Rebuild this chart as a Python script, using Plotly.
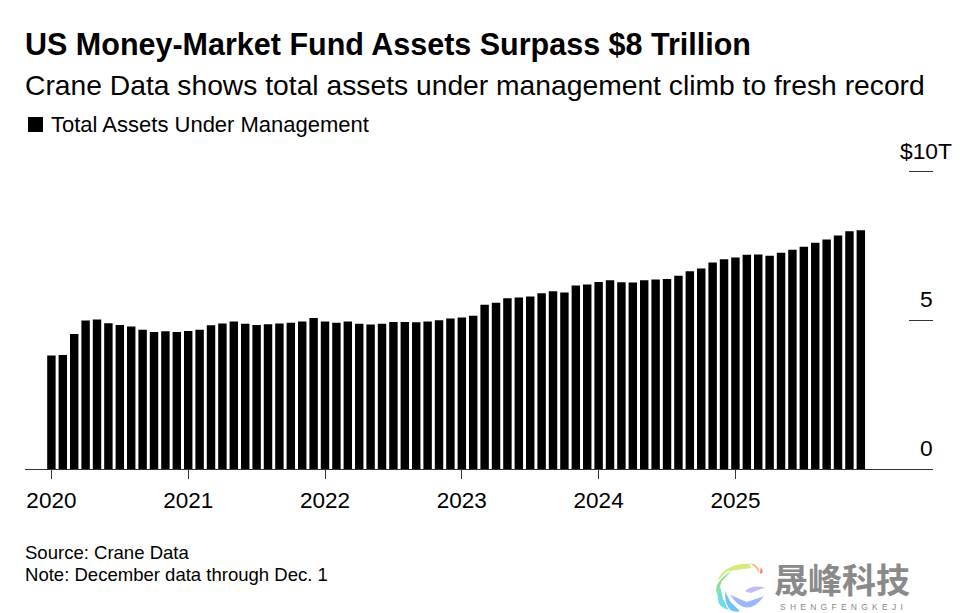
import plotly.graph_objects as go

# total assets under management, $ trillions, monthly
years = ["2020", "2021", "2022", "2023", "2024", "2025"]
assets_2020 = [3.82, 3.83, 4.54, 4.99, 5.03, 4.90, 4.84, 4.79, 4.68, 4.61, 4.63, 4.61]
assets_2021 = [4.64, 4.68, 4.83, 4.89, 4.96, 4.88, 4.84, 4.87, 4.89, 4.92, 4.96, 5.08]
assets_2022 = [4.96, 4.92, 4.96, 4.88, 4.86, 4.88, 4.94, 4.94, 4.93, 4.96, 5.00, 5.06]
assets_2023 = [5.09, 5.15, 5.52, 5.59, 5.74, 5.77, 5.80, 5.91, 5.98, 5.93, 6.17, 6.20]
assets_2024 = [6.29, 6.35, 6.28, 6.27, 6.35, 6.37, 6.39, 6.50, 6.65, 6.74, 6.94, 7.05]
assets_2025 = [7.11, 7.20, 7.21, 7.17, 7.27, 7.37, 7.47, 7.61, 7.72, 7.85, 7.99, 8.03]
y_ticks = [0, 5, 10]
y_tick_labels = ["0", "5", "$10T"]

values = assets_2020 + assets_2021 + assets_2022 + assets_2023 + assets_2024 + assets_2025
months = [f"{y}-{m:02d}" for y in years for m in range(1, 13)]

W, H = 966, 613
L, R, T, B = 25, 933, 168, 469
FONT = "Liberation Sans"


def px(x):
    return (x - L) / (R - L)


def py(y):
    return (B - y) / (B - T)


def note(text, x, y, size, xanchor="left", color="#000000", family=FONT):
    fig.add_annotation(text=text, xref="paper", yref="paper", x=px(x), y=py(y), xanchor=xanchor,
                       yanchor="middle", showarrow=False, borderpad=0, borderwidth=0,
                       font=dict(size=size, color=color, family=family))


fig = go.Figure()
fig.add_trace(go.Bar(x=months, y=values, name="Total Assets Under Management",
                     marker=dict(color="#000000", line=dict(width=0))))

fig.update_layout(
    width=W, height=H,
    margin=dict(l=L, r=W - R, t=T, b=H - B, pad=0),
    paper_bgcolor="white", plot_bgcolor="white",
    bargap=0.26,
    showlegend=False,
    font=dict(family=FONT, color="#000000", size=20),
    title=dict(text="<b>US Money-Market Fund Assets Surpass $8 Trillion</b>",
               font=dict(size=30.5, family=FONT, color="#000000"),
               x=25 / W, xanchor="left", y=1 - 44.5 / H, yanchor="middle"),
    xaxis=dict(type="category", range=[-2.316, 77.33], showgrid=False,
               tickmode="array", tickvals=[f"{y}-01" for y in years], ticktext=years,
               ticks="outside", ticklen=9, tickwidth=1, tickcolor="#333333",
               showline=True, linecolor="#333333", linewidth=1,
               tickfont=dict(size=22.5), ticklabelstandoff=2, zeroline=False),
    yaxis=dict(range=[0, 10.12], side="right", showgrid=False, zeroline=False,
               tickmode="array", tickvals=y_ticks, ticks="inside", ticklen=24,
               tickwidth=1, tickcolor="#333333", showticklabels=False),
)

note("Crane Data shows total assets under management climb to fresh record", 25, 85, 28.25)

# legend key and label
fig.add_shape(type="rect", xref="paper", yref="paper", x0=px(28), x1=px(43), y0=py(132), y1=py(117),
              fillcolor="#000000", line=dict(width=0))
note("Total Assets Under Management", 51, 124.4, 22)

for tick, label in zip(y_ticks, y_tick_labels):
    overhang = 19 if label.endswith("T") else 0
    fig.add_annotation(text=label, x=1, xref="paper", y=tick, yref="y", xanchor="right", yanchor="bottom",
                       xshift=overhang, yshift=8, showarrow=False, borderpad=0, borderwidth=0,
                       font=dict(size=22.8))

note("Source: Crane Data", 25, 552.5, 18.55)
note("Note: December data through Dec. 1", 25, 574, 18.55)

# watermark: logo bands as crescents, then the wordmark
logo_bands = [
    ("#f4807f", [(152, 27), (165, 47), (150, 47), (152, 27)]),
    ("#fbbf7a", [(120, 15), (150, 20), (148, 45), (135, 28)]),
    ("#d5ec7c", [(118, 17), (45, 15), (20, 70), (52, 40), (125, 30)]),
    ("#8fe08f", [(65, 38), (5, 75), (22, 112), (35, 70), (65, 38)]),
    ("#6fdde0", [(30, 85), (8, 145), (55, 155), (40, 125), (30, 85)]),
    ("#6cc4f5", [(45, 100), (45, 170), (90, 160), (60, 130), (45, 100)]),
    ("#9db8fa", [(60, 110), (110, 185), (162, 115), (110, 132), (60, 110)]),
    ("#c9b8f5", [(105, 100), (122, 80), (165, 88), (122, 105), (105, 100)]),
]
for color, pts in logo_bands:
    p = [(px(710 + a / 3), py(558 + b / 3)) for a, b in pts]
    path = f"M {p[0][0]} {p[0][1]} Q {p[1][0]} {p[1][1]} {p[2][0]} {p[2][1]}"
    path += "".join(f" L {a} {b}" for a, b in p[3:]) + " Z"
    fig.add_shape(type="path", xref="paper", yref="paper", path=path, fillcolor=color, line=dict(width=0))

note("<b>晟峰科技</b>", 842, 581, 34, xanchor="center", color="#8a8a8a", family="Liberation Sans, Noto Sans CJK SC")
note("\u2002".join("SHENGFENGKEJI"), 841, 606.5, 8.5, xanchor="center", color="#8a8a8a")

fig.write_html("out.html", config={"displayModeBar": False},
               post_script="document.body.style.margin='0'")
